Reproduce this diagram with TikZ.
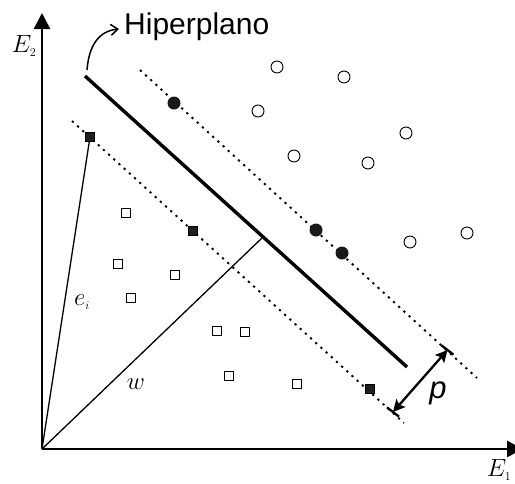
\documentclass[tikz,border=0pt]{standalone}
\usepackage{fontspec}
\newfontfamily\arial{Liberation Sans}
\usetikzlibrary{arrows.meta,calc}
\tikzset{ptip/.tip={Stealth[length=12pt,width=12pt,inset=2.5pt]}}
\begin{document}
\begin{tikzpicture}[x=1pt,y=-1pt,
  axis/.style={line width=2.6pt,-{Triangle[length=16pt,width=16pt]}},
  hyper/.style={line width=3.4pt},
  margin/.style={line width=1.9pt,dash pattern=on 2.2pt off 4.8pt},
  thinline/.style={line width=1.3pt},
  osq/.style={draw,line width=0.9pt,minimum size=9pt,inner sep=0pt,fill=white},
  fsq/.style={draw,fill=black!88,minimum size=9pt,inner sep=0pt},
  ocirc/.style={circle,draw,line width=0.9pt,minimum size=12pt,inner sep=0pt,fill=white},
  fcirc/.style={circle,fill=black!90,minimum size=13pt,inner sep=0pt},
  mathlbl/.style={font=\fontsize{25}{30}\selectfont,inner sep=0pt},
]
\useasboundingbox (0,0) rectangle (515,483);
% axes
\coordinate (O) at (42,449);
\coordinate (Ytip) at (42,13);
\coordinate (Xtip) at (523,449);
\draw[axis] (O) -- (Ytip);
\draw[axis] (O) -- (Xtip);
\node[mathlbl] (E2) at (24,46) {$E_{\scriptscriptstyle 2}$};
\node[mathlbl] (E1) at (499,470) {$E_{\scriptscriptstyle 1}$};
% margins and hyperplane
\coordinate (m1a) at (140,70);
\coordinate (m1b) at (477,378);
\coordinate (m2a) at (72,121);
\coordinate (m2b) at (404,423);
\coordinate (ha) at (85,76);
\coordinate (hb) at (407,367);
\draw[margin] (m1a) -- (m1b);
\draw[margin] (m2a) -- (m2b);
\draw[hyper] (ha) -- (hb);
% support vectors
\node[fsq] (s1) at (90,137) {};
\node[fsq] (s2) at (193,231) {};
\node[fsq] (s3) at (370,389) {};
\node[fcirc] (c1) at (174,103) {};
\node[fcirc] (c2) at (316,230) {};
\node[fcirc] (c3) at (342,253) {};
% open circles
\node[ocirc] (o1) at (277,67) {};
\node[ocirc] (o2) at (344,77) {};
\node[ocirc] (o3) at (258,111) {};
\node[ocirc] (o4) at (406,133) {};
\node[ocirc] (o5) at (294,156) {};
\node[ocirc] (o6) at (368,163) {};
\node[ocirc] (o7) at (410,242) {};
\node[ocirc] (o8) at (467,233) {};
% open squares
\node[osq] (q1) at (126,213) {};
\node[osq] (q2) at (118,264) {};
\node[osq] (q3) at (175,275) {};
\node[osq] (q4) at (131,298) {};
\node[osq] (q5) at (217,331) {};
\node[osq] (q6) at (245,332) {};
\node[osq] (q7) at (229,376) {};
\node[osq] (q8) at (297,384) {};
% vectors
\coordinate (foot) at (262,238);
\draw[thinline] (O) -- (s1);
\draw[thinline] (O) -- (foot);
\node[mathlbl] (ei) at (82,302) {$e_{\scriptscriptstyle i}$};
\node[mathlbl] (wl) at (136,384) {$w$};
% margin width p
\coordinate (pa) at (447.5,350);
\coordinate (pb) at (393,412);
\draw[line width=2.3pt,{ptip}-{ptip}] (pa) -- (pb);
\draw[line width=2.3pt] ($(pa)+(-6,-4.6)$) -- ($(pa)+(6,4.6)$);
\draw[line width=2.3pt] ($(pb)+(-6,-4.6)$) -- ($(pb)+(6,4.6)$);
\node[font=\arial\itshape\fontsize{31}{34}\selectfont,inner sep=0pt] (p) at (438,393) {p};
% label Hiperplano
\node[font=\arial\fontsize{30}{34}\selectfont,inner sep=0pt,anchor=base west] (hl) at (124,34) {Hiperplano};
\coordinate (harr) at (119,29);
\draw[line width=1.5pt,-{Straight Barb[length=7pt,width=11pt]}] (87,70) .. controls (89,45) and (99,31) .. (harr);
\end{tikzpicture}
\end{document}
